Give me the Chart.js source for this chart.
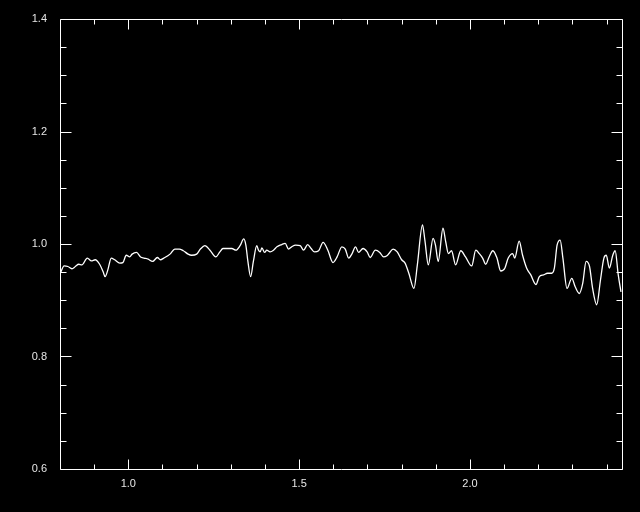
<!DOCTYPE html>
<html>
<head>
<meta charset="utf-8">
<script src="https://cdn.jsdelivr.net/npm/chart.js@4/dist/chart.umd.min.js"></script>
<style>
  html, body { margin: 0; padding: 0; background: #000; }
  canvas { display: block; }
</style>
</head>
<body>
<canvas id="chart" width="640" height="512"></canvas>
<script>
// spectrum values
const xValues = [
  0.801, 0.812, 0.823, 0.835, 0.845, 0.855, 0.864, 0.880, 0.892, 0.903,
  0.916, 0.926, 0.932, 0.940, 0.950, 0.960, 0.975, 0.984, 0.994, 1.004,
  1.011, 1.024, 1.036, 1.046, 1.058, 1.071, 1.085, 1.094, 1.104, 1.122,
  1.136, 1.149, 1.161, 1.175, 1.185, 1.200, 1.211, 1.224, 1.239, 1.256,
  1.268, 1.277, 1.288, 1.303, 1.315, 1.327, 1.338, 1.344, 1.350, 1.358,
  1.366, 1.376, 1.381, 1.386, 1.391, 1.399, 1.405, 1.415, 1.425, 1.435,
  1.449, 1.459, 1.469, 1.478, 1.490, 1.503, 1.513, 1.525, 1.535, 1.545,
  1.557, 1.570, 1.584, 1.599, 1.611, 1.625, 1.635, 1.645, 1.655, 1.665,
  1.674, 1.687, 1.699, 1.708, 1.723, 1.736, 1.747, 1.757, 1.763, 1.775,
  1.787, 1.800, 1.810, 1.821, 1.836, 1.846, 1.861, 1.868, 1.878, 1.892,
  1.899, 1.907, 1.921, 1.929, 1.937, 1.946, 1.958, 1.973, 1.987, 2.005,
  2.017, 2.027, 2.037, 2.046, 2.056, 2.067, 2.079, 2.090, 2.102, 2.112,
  2.125, 2.131, 2.144, 2.154, 2.166, 2.178, 2.193, 2.203, 2.215, 2.227,
  2.239, 2.247, 2.255, 2.264, 2.272, 2.284, 2.298, 2.308, 2.320, 2.330,
  2.340, 2.350, 2.359, 2.371, 2.382, 2.392, 2.399, 2.408, 2.418, 2.425,
  2.434, 2.442
];
const yValues = [
  0.948, 0.961, 0.960, 0.956, 0.960, 0.964, 0.963, 0.975, 0.970, 0.972,
  0.964, 0.951, 0.942, 0.954, 0.975, 0.972, 0.966, 0.967, 0.980, 0.977,
  0.982, 0.985, 0.977, 0.975, 0.973, 0.969, 0.976, 0.972, 0.975, 0.982,
  0.991, 0.991, 0.988, 0.982, 0.980, 0.982, 0.991, 0.997, 0.989, 0.977,
  0.986, 0.992, 0.992, 0.992, 0.989, 0.997, 1.009, 0.998, 0.969, 0.942,
  0.969, 0.997, 0.989, 0.986, 0.993, 0.985, 0.989, 0.986, 0.989, 0.995,
  0.999, 1.001, 0.991, 0.995, 0.998, 0.997, 0.989, 0.999, 0.992, 0.986,
  0.988, 1.003, 0.989, 0.967, 0.977, 0.995, 0.991, 0.975, 0.983, 0.995,
  0.985, 0.992, 0.986, 0.976, 0.989, 0.985, 0.977, 0.979, 0.983, 0.991,
  0.986, 0.972, 0.966, 0.948, 0.921, 0.963, 1.034, 1.007, 0.963, 1.010,
  0.998, 0.969, 1.028, 1.004, 0.983, 0.988, 0.963, 0.988, 0.977, 0.961,
  0.989, 0.983, 0.975, 0.964, 0.977, 0.988, 0.975, 0.952, 0.957, 0.975,
  0.983, 0.975, 1.005, 0.980, 0.957, 0.945, 0.928, 0.942, 0.945, 0.948,
  0.948, 0.957, 0.998, 1.007, 0.975, 0.921, 0.939, 0.924, 0.912, 0.930,
  0.969, 0.960, 0.921, 0.892, 0.936, 0.975, 0.980, 0.957, 0.980, 0.988,
  0.945, 0.915
];

const xRange = [0.8, 2.445];
const yRange = [0.6, 1.4];
const xLabels = [1.0, 1.5, 2.0];
const yLabels = [0.6, 0.8, 1.0, 1.2, 1.4];
const xMinorTicks = [0.9, 1.1, 1.2, 1.3, 1.4, 1.6, 1.7, 1.8, 1.9, 2.1, 2.2, 2.3, 2.4];
const yMinorTicks = [0.65, 0.7, 0.75, 0.85, 0.9, 0.95, 1.05, 1.1, 1.15, 1.25, 1.3, 1.35];

const points = xValues.map((x, i) => ({ x: x, y: yValues[i] }));

// box with inward ticks on all four sides, like the IDL style axes
const frameTicks = {
  id: 'frameTicks',
  afterDraw(chart) {
    const ctx = chart.ctx;
    const xs = chart.scales.x;
    const ys = chart.scales.y;
    const left = Math.round(xs.getPixelForValue(xRange[0])) + 0.5;
    const right = Math.round(xs.getPixelForValue(xRange[1])) + 0.5;
    const top = Math.round(ys.getPixelForValue(yRange[1])) + 0.5;
    const bottom = Math.round(ys.getPixelForValue(yRange[0])) + 0.5;
    ctx.save();
    ctx.strokeStyle = '#ffffff';
    ctx.lineWidth = 1;
    ctx.beginPath();
    ctx.rect(left, top, right - left, bottom - top);

    const xTick = (v, len) => {
      const px = Math.round(xs.getPixelForValue(v)) + 0.5;
      ctx.moveTo(px, bottom); ctx.lineTo(px, bottom - len);
      ctx.moveTo(px, top); ctx.lineTo(px, top + len);
    };
    const yTick = (v, len) => {
      const py = Math.round(ys.getPixelForValue(v)) + 0.5;
      ctx.moveTo(left, py); ctx.lineTo(left + len, py);
      ctx.moveTo(right, py); ctx.lineTo(right - len, py);
    };
    xLabels.forEach(v => xTick(v, 10));
    xMinorTicks.forEach(v => xTick(v, 5));
    yLabels.forEach(v => yTick(v, 11));
    yMinorTicks.forEach(v => yTick(v, 6));
    ctx.stroke();
    ctx.restore();
  }
};

new Chart(document.getElementById('chart'), {
  type: 'line',
  data: {
    datasets: [{
      data: points,
      borderColor: '#ffffff',
      borderWidth: 1.3,
      pointRadius: 0,
      cubicInterpolationMode: 'monotone',
      fill: false
    }]
  },
  options: {
    responsive: false,
    animation: false,
    layout: { padding: { top: 19, right: 18, left: 0, bottom: 0 } },
    plugins: {
      legend: { display: false },
      tooltip: { enabled: false }
    },
    scales: {
      x: {
        type: 'linear',
        min: xRange[0],
        max: xRange[1],
        grid: { display: false },
        border: { display: false },
        afterBuildTicks(scale) { scale.ticks = xLabels.map(v => ({ value: v })); },
        afterFit(scale) { scale.height = 43; },
        ticks: {
          color: '#e6e6e6',
          padding: 0,
          maxRotation: 0,
          autoSkip: false,
          font: { family: 'Liberation Sans', size: 11 },
          callback: v => Number(v).toFixed(1)
        }
      },
      y: {
        min: yRange[0],
        max: yRange[1],
        grid: { display: false },
        border: { display: false },
        afterBuildTicks(scale) { scale.ticks = yLabels.map(v => ({ value: v })); },
        afterFit(scale) { scale.width = 60; },
        ticks: {
          color: '#e6e6e6',
          padding: 5,
          autoSkip: false,
          font: { family: 'Liberation Sans', size: 11 },
          callback: v => Number(v).toFixed(1)
        }
      }
    }
  },
  plugins: [frameTicks]
});
</script>
</body>
</html>
